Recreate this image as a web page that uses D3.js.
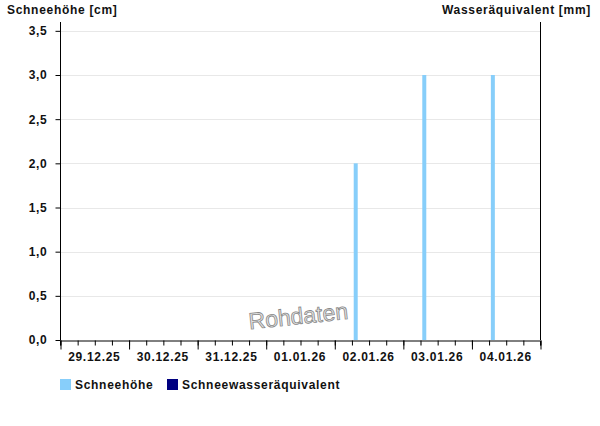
<!DOCTYPE html>
<html>
<head>
<meta charset="utf-8">
<script src="https://d3js.org/d3.v7.min.js"></script>
<style>
  body { margin: 0; background: #fff; }
  text { font-family: "Liberation Sans", Arial, sans-serif; }
  .lbl { font-size: 12px; font-weight: bold; fill: #111; letter-spacing: 0.7px; }
</style>
</head>
<body>
<script>
// measurement times (morning reading) and values
var times = ["2025-12-29T07:30", "2025-12-30T07:30", "2025-12-31T07:30", "2026-01-01T07:30",
             "2026-01-02T07:30", "2026-01-03T07:30", "2026-01-04T07:30"];
var snowDepth = [0, 0, 0, 0, 2, 3, 3];
var waterEquiv = [0, 0, 0, 0, 0, 0, 0];
var yTicks = [0, 0.5, 1, 1.5, 2, 2.5, 3, 3.5];
var dayLabels = ["29.12.25", "30.12.25", "31.12.25", "01.01.26", "02.01.26", "03.01.26", "04.01.26"];
var seriesNames = ["Schneehöhe", "Schneewasseräquivalent"];
var seriesColors = ["#87cefa", "#000080"];

var parse = d3.timeParse("%Y-%m-%dT%H:%M");
var W = 600, H = 426;
var m = {top: 22, left: 60, right: 60, bottom: 86};

var svg = d3.select("body").append("svg")
    .attr("width", W).attr("height", H);

var x = d3.scaleTime()
    .domain([new Date(2025, 11, 29), new Date(2026, 0, 5)])
    .range([m.left, W - m.right]);

var y = d3.scaleLinear()
    .domain([0, 3.6])
    .range([H - m.bottom, m.top]);

var fmt = d3.format(".1f");

// grid
svg.append("g").selectAll("line")
    .data(yTicks.slice(1))
    .enter().append("line")
    .attr("x1", m.left).attr("x2", W - m.right)
    .attr("y1", function(d) { return Math.round(y(d)) + 0.5; })
    .attr("y2", function(d) { return Math.round(y(d)) + 0.5; })
    .attr("stroke", "#e8e8e8");

// bars
var data = times.map(function(t, i) { return {t: parse(t), v: snowDepth[i], w: waterEquiv[i]}; });
svg.append("g").selectAll("rect")
    .data(data.filter(function(d) { return d.v > 0; }))
    .enter().append("rect")
    .attr("x", function(d) { return x(d.t) - 2; })
    .attr("width", 4)
    .attr("y", function(d) { return y(d.v); })
    .attr("height", function(d) { return y(0) - y(d.v); })
    .attr("fill", seriesColors[0]);

// watermark
svg.append("text")
    .attr("transform", "translate(299,324) rotate(-6)")
    .attr("text-anchor", "middle")
    .style("font-size", "23px")
    .attr("fill", "#e6e6e6")
    .attr("stroke", "#888")
    .attr("stroke-width", 0.8)
    .text("Rohdaten");

// y axis left
var yAxis = d3.axisLeft(y).tickValues(yTicks).tickSize(5).tickPadding(8)
    .tickFormat(function(d) { return fmt(d).replace(".", ","); });
var gy = svg.append("g")
    .attr("transform", "translate(" + (m.left + 0.5) + ",0)")
    .call(yAxis);
gy.select(".domain").attr("d", "M0," + m.top + "V" + (H - m.bottom + 0.5));
gy.selectAll("text").attr("class", "lbl").attr("font-size", null).attr("font-family", null);

// right axis line
svg.append("line")
    .attr("x1", W - m.right + 0.5).attr("x2", W - m.right + 0.5)
    .attr("y1", m.top).attr("y2", H - m.bottom)
    .attr("stroke", "#000");

// x axis: minor ticks every 6h, major every day
var gx = svg.append("g")
    .attr("transform", "translate(0," + (H - m.bottom + 0.5) + ")");
gx.call(d3.axisBottom(x).ticks(d3.timeHour.every(6)).tickSize(5).tickFormat(""));
gx.append("g").call(d3.axisBottom(x).ticks(d3.timeDay.every(1)).tickSize(9).tickFormat(""))
    .select(".domain").remove();
gx.selectAll(".tick line").attr("transform", "translate(0.5,0)");

svg.append("g").selectAll("text")
    .data(dayLabels)
    .enter().append("text")
    .attr("class", "lbl")
    .attr("text-anchor", "middle")
    .attr("x", function(d, i) { return x(d3.timeHour.offset(new Date(2025, 11, 29 + i), 12)); })
    .attr("y", H - m.bottom + 21)
    .text(function(d) { return d; });

// titles
svg.append("text").attr("class", "lbl").attr("x", 7).attr("y", 14).text("Schneehöhe [cm]");
svg.append("text").attr("class", "lbl").attr("x", 591).attr("y", 14)
    .attr("text-anchor", "end").text("Wasseräquivalent [mm]");

// legend
var lx = [60, 167];
var leg = svg.append("g").selectAll("g")
    .data(seriesNames)
    .enter().append("g")
    .attr("transform", function(d, i) { return "translate(" + lx[i] + ",379)"; });
leg.append("rect").attr("width", 11).attr("height", 11)
    .attr("fill", function(d, i) { return seriesColors[i]; });
leg.append("text").attr("class", "lbl").attr("x", 15).attr("y", 10)
    .text(function(d) { return d; });
</script>
</body>
</html>
